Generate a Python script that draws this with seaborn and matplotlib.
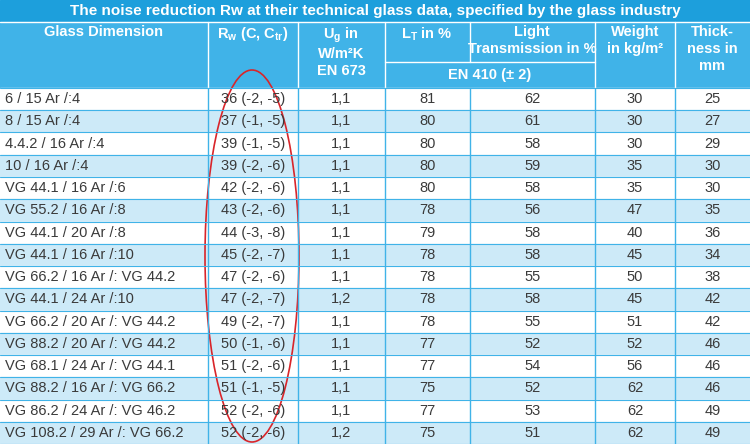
import matplotlib
matplotlib.use("Agg")
import matplotlib.pyplot as plt
from matplotlib.patches import Rectangle, Ellipse
import seaborn as sns

sns.set_theme(style="white")
plt.rcParams['font.family'] = ['Liberation Sans', 'DejaVu Sans']
plt.rcParams['mathtext.fontset'] = 'custom'
plt.rcParams['mathtext.rm'] = 'Liberation Sans'
plt.rcParams['mathtext.bf'] = 'Liberation Sans:bold'

title = "The noise reduction Rw at their technical glass data, specified by the glass industry"
glass = ["6 / 15 Ar /:4", "8 / 15 Ar /:4", "4.4.2 / 16 Ar /:4", "10 / 16 Ar /:4",
         "VG 44.1 / 16 Ar /:6", "VG 55.2 / 16 Ar /:8", "VG 44.1 / 20 Ar /:8",
         "VG 44.1 / 16 Ar /:10", "VG 66.2 / 16 Ar /: VG 44.2", "VG 44.1 / 24 Ar /:10",
         "VG 66.2 / 20 Ar /: VG 44.2", "VG 88.2 / 20 Ar /: VG 44.2",
         "VG 68.1 / 24 Ar /: VG 44.1", "VG 88.2 / 16 Ar /: VG 66.2",
         "VG 86.2 / 24 Ar /: VG 46.2", "VG 108.2 / 29 Ar /: VG 66.2"]
rw = ["36 (-2, -5)", "37 (-1, -5)", "39 (-1, -5)", "39 (-2, -6)", "42 (-2, -6)",
      "43 (-2, -6)", "44 (-3, -8)", "45 (-2, -7)", "47 (-2, -6)", "47 (-2, -7)",
      "49 (-2, -7)", "50 (-1, -6)", "51 (-2, -6)", "51 (-1, -5)", "52 (-2, -6)", "52 (-2, -6)"]
ug = ["1,1"] * 9 + ["1,2"] + ["1,1"] * 5 + ["1,2"]
lt = [81, 80, 80, 80, 80, 78, 79, 78, 78, 78, 78, 77, 77, 75, 77, 75]
light = [62, 61, 58, 59, 58, 56, 58, 58, 55, 58, 55, 52, 54, 52, 53, 51]
weight = [30, 30, 30, 35, 35, 47, 40, 45, 50, 45, 51, 52, 56, 62, 62, 62]
thick = [25, 27, 29, 30, 30, 35, 36, 34, 38, 42, 42, 46, 46, 46, 49, 49]

cols = [0, 208, 298, 385, 470, 595, 675, 750]
title_bg = "#1d9fdc"
head_bg = "#40b3e8"
row_alt = "#cdeaf8"
txt = "#3a3a3a"

fig = plt.figure(figsize=(7.5, 4.44), dpi=100)
ax = fig.add_axes([0, 0, 1, 1])
ax.set_xlim(0, 750)
ax.set_ylim(444, 0)
ax.axis("off")

ax.add_patch(Rectangle((0, 0), 750, 22, color=title_bg))
ax.text(375, 11, title, color="white", ha="center", va="center", fontsize=11, fontweight="bold")
ax.add_patch(Rectangle((0, 22), 750, 66, color=head_bg))
for x in cols[1:-1]:
    if x == 470:
        ax.plot([x, x], [22, 62], color="white", lw=1)
    else:
        ax.plot([x, x], [22, 88], color="white", lw=1)
ax.plot([385, 595], [62, 62], color="white", lw=1)
ax.plot([0, 750], [22, 22], color="white", lw=1)

hk = dict(color="white", fontsize=10.5, fontweight="bold", ha="center", va="top", linespacing=1.25)
ax.text(104, 25, "Glass Dimension", **hk)
ax.text(253, 25, r"R$_\mathbf{w}$ (C, C$_\mathbf{tr}$)", **hk)
ax.text(341, 25, "U$_\\mathbf{g}$ in\nW/m²K\nEN 673", **hk)
ax.text(427, 25, r"L$_\mathbf{T}$ in %", **hk)
ax.text(532, 25, "Light\nTransmission in %", **hk)
ax.text(490, 75, "EN 410 (± 2)", color="white", fontsize=10.5, fontweight="bold", ha="center", va="center")
ax.text(635, 25, "Weight\nin kg/m²", **hk)
ax.text(712, 25, "Thick-\nness in\nmm", **hk)

y0 = 88
rh = (444 - y0) / len(glass)
for i in range(len(glass)):
    y = y0 + i * rh
    ax.add_patch(Rectangle((0, y), 750, rh, color="white" if i % 2 == 0 else row_alt))
    yc = y + rh / 2
    bk = dict(color=txt, fontsize=10.5, va="center")
    ax.text(5, yc, glass[i], ha="left", **bk)
    vals = [rw[i], ug[i], lt[i], light[i], weight[i], thick[i]]
    for j, v in enumerate(vals):
        ax.text((cols[j + 1] + cols[j + 2]) / 2, yc, str(v), ha="center", **bk)
for x in cols[1:-1]:
    ax.plot([x, x], [y0, 444], color="#40b3e8", lw=1)
for i in range(len(glass) + 1):
    ax.plot([0, 750], [y0 + i * rh] * 2, color="#40b3e8", lw=0.8)

ax.add_patch(Ellipse((252, 256), 94, 372, fill=False, edgecolor="#d9252a", lw=1.2))

fig.savefig("out.png", dpi=100)
